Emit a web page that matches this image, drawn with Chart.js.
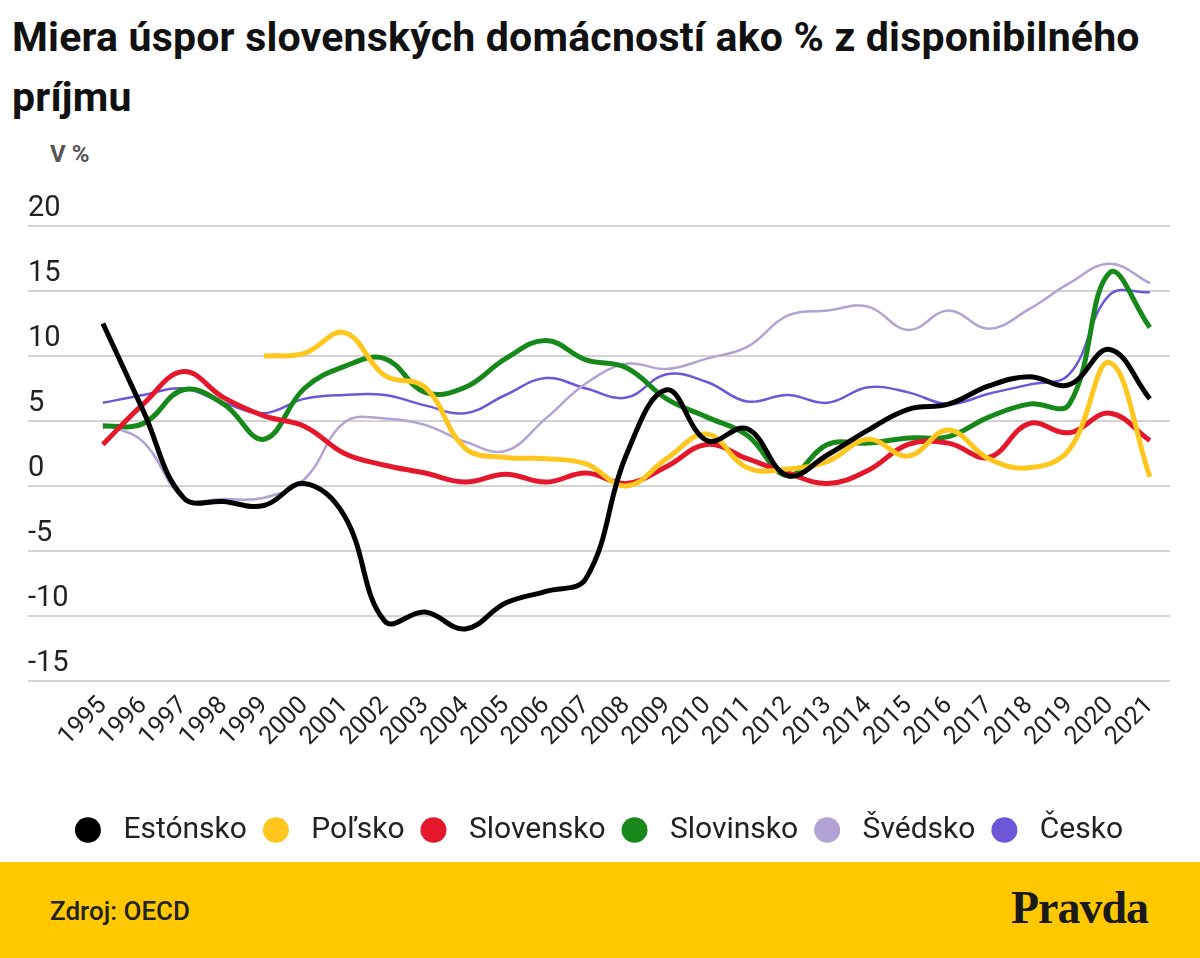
<!DOCTYPE html>
<html>
<head>
<meta charset="utf-8">
<script src="https://cdn.jsdelivr.net/npm/chart.js@4"></script>
<style>
  body { margin: 0; background: #fff; font-family: Roboto, "Noto Sans", sans-serif; }
  #wrap { position: relative; width: 1200px; height: 958px; overflow: hidden; }
  #title { position: absolute; left: 12px; top: 7px; width: 1185px; font-size: 41px; font-weight: 700; line-height: 60px; color: #111; letter-spacing: 0.2px; }
  #unit { position: absolute; left: 50px; top: 140px; font-size: 24px; font-weight: 700; color: #555; }
  #box { position: absolute; left: 0; top: 0; width: 1200px; height: 862px; }
  #foot { position: absolute; left: 0; top: 862px; width: 1200px; height: 96px; background: #ffc800; }
  #src { position: absolute; left: 50px; top: 34px; font-size: 26px; font-weight: 500; color: #222; }
  #logo { position: absolute; right: 52px; top: 19px; font-family: "Liberation Serif", serif; font-size: 46px; font-weight: 700; color: #1a1a1a; letter-spacing: -1px; }
</style>
</head>
<body>
<div id="wrap">
  <div id="title">Miera úspor slovenských domácností ako % z disponibilného príjmu</div>
  <div id="unit">V %</div>
  <div id="box"><canvas id="lineChart"></canvas></div>
  <div id="foot">
    <div id="src">Zdroj: OECD</div>
    <div id="logo">Pravda</div>
  </div>
</div>
<script>
const years = [1995, 1996, 1997, 1998, 1999, 2000, 2001, 2002, 2003, 2004, 2005, 2006, 2007, 2008,
  2009, 2010, 2011, 2012, 2013, 2014, 2015, 2016, 2017, 2018, 2019, 2020, 2021];

const estonsko  = [12.5, 5.8, -0.9, -1.2, -1.5, 0.2, -2.3, -10.4, -9.7, -11.0, -9.0, -8.1, -7.1, 2.4,
  7.4, 3.5, 4.4, 0.8, 2.4, 4.3, 5.9, 6.3, 7.7, 8.4, 7.8, 10.5, 6.7];
const polsko    = [null, null, null, null, 10.0, 10.2, 11.8, 8.5, 7.6, 2.9, 2.2, 2.1, 1.7, 0.0,
  2.1, 4.0, 1.4, 1.3, 1.9, 3.6, 2.3, 4.3, 2.1, 1.4, 2.8, 9.5, 0.7];
const slovensko = [3.2, 6.3, 8.8, 6.8, 5.4, 4.6, 2.5, 1.6, 1.0, 0.3, 0.9, 0.3, 1.0, 0.2,
  1.5, 3.2, 2.1, 1.0, 0.2, 1.2, 3.2, 3.3, 2.2, 4.8, 4.1, 5.6, 3.5];
const slovinsko = [4.6, 4.8, 7.4, 6.3, 3.6, 7.5, 9.2, 9.8, 7.2, 7.6, 9.8, 11.2, 9.7, 9.1,
  6.7, 5.3, 3.9, 0.8, 3.2, 3.3, 3.7, 3.8, 5.3, 6.3, 6.3, 16.4, 12.2];
const svedsko   = [4.8, 3.4, -0.9, -1.0, -0.9, 0.5, 4.9, 5.2, 4.7, 3.4, 2.7, 5.2, 7.9, 9.4,
  9.0, 9.8, 10.7, 13.1, 13.5, 13.8, 12.0, 13.5, 12.1, 13.6, 15.6, 17.1, 15.6];
const cesko     = [6.4, 7.0, 7.5, 6.4, 5.6, 6.7, 7.0, 7.0, 6.2, 5.6, 7.0, 8.3, 7.5, 6.8,
  8.6, 8.0, 6.5, 7.0, 6.4, 7.6, 7.2, 6.3, 7.1, 7.8, 8.6, 14.7, 14.9];

const yTicks = [-15, -10, -5, 0, 5, 10, 15, 20];

function series(label, values, color, width) {
  return {
    label: label,
    data: years.map((y, i) => ({ x: y, y: values[i] })),
    borderColor: color,
    backgroundColor: color,
    borderWidth: width,
    pointRadius: 0,
    pointStyle: 'circle',
    tension: 0.4,
    fill: false
  };
}

const ctx = document.getElementById('lineChart');

new Chart(ctx, {
  type: 'line',
  data: {
    datasets: [
      series('Estónsko', estonsko, '#000000', 5),
      series('Poľsko', polsko, '#ffc61e', 5),
      series('Slovensko', slovensko, '#e4172b', 5),
      series('Slovinsko', slovinsko, '#17891a', 5),
      series('Švédsko', svedsko, '#b3a2d4', 2.5),
      series('Česko', cesko, '#6d57d8', 2.5)
    ]
  },
  options: {
    responsive: true,
    maintainAspectRatio: false,
    animation: false,
    layout: { padding: { top: 226, left: 28, right: 30, bottom: 7 } },
    scales: {
      x: {
        type: 'linear',
        min: 1993.14,
        max: 2021.5,
        afterBuildTicks: (axis) => { axis.ticks = years.map(v => ({ value: v })); },
        afterFit: (axis) => { axis.height = 118; },
        grid: { display: false },
        border: { display: false },
        ticks: {
          autoSkip: false,
          minRotation: 45,
          maxRotation: 45,
          padding: 2,
          color: '#222',
          font: { family: 'Roboto', size: 25 },
          callback: (v) => String(v)
        }
      },
      y: {
        min: -15,
        max: 20,
        afterBuildTicks: (axis) => { axis.ticks = yTicks.map(v => ({ value: v })); },
        afterFit: (axis) => { axis.width = 0; },
        grid: { color: '#d4d4d4', lineWidth: 2, drawTicks: false },
        border: { display: false },
        ticks: {
          mirror: true,
          padding: 0,
          labelOffset: -17,
          color: '#222',
          font: { family: 'Roboto', size: 29 }
        }
      }
    },
    plugins: {
      tooltip: { enabled: false },
      legend: {
        position: 'bottom',
        labels: {
          usePointStyle: true,
          pointStyleWidth: 26,
          boxHeight: 18,
          padding: 16,
          color: '#222',
          font: { family: 'Roboto', size: 30 },
          generateLabels: (chart) => Chart.defaults.plugins.legend.labels.generateLabels(chart)
            .map(item => ({ ...item, text: ' ' + item.text, lineWidth: 0 }))
        }
      }
    }
  }
});
</script>
</body>
</html>
